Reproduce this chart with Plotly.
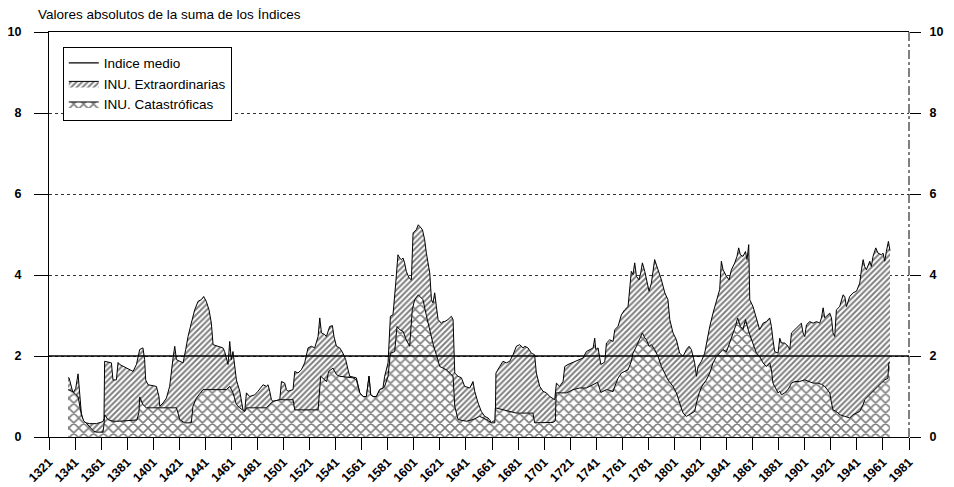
import plotly.graph_objects as go

# ---- data ----
years_ext = [1335.6, 1336.4, 1339.4, 1341.5, 1343.3, 1345.8, 1347.6, 1352.2, 1357.4, 1362.4, 1363.2, 1363.7,
             1368.9, 1370.1, 1372.7, 1374.0, 1375.3, 1380.4, 1382.9, 1385.5, 1388.1, 1390.6, 1393.1, 1394.4,
             1395.2, 1397.0, 1403.4, 1405.4, 1406.0, 1408.5, 1411.1, 1413.6, 1416.2, 1417.5, 1418.8, 1421.3,
             1423.9, 1425.9, 1427.7, 1430.2, 1432.8, 1435.4, 1437.9, 1439.7, 1441.7, 1443.8, 1445.6, 1446.9,
             1450.7, 1454.5, 1455.8, 1457.1, 1458.4, 1459.7, 1460.9, 1462.2, 1464.8, 1467.4,
             1469.9, 1471.2, 1472.5, 1475.0, 1478.9, 1481.4, 1485.3, 1487.8, 1489.1, 1490.4, 1491.7, 1492.9,
             1498.1, 1499.4, 1501.9, 1503.2, 1504.4, 1508.3, 1509.6, 1512.1, 1514.7, 1517.2, 1519.8, 1522.4,
             1524.9, 1527.5, 1528.8, 1530.1, 1532.6, 1533.9, 1536.4, 1538.5, 1539.7, 1541.6, 1544.1, 1546.6,
             1548.7, 1550.5, 1551.8, 1556.9, 1559.5, 1562.0, 1564.6, 1566.6, 1567.9, 1569.7, 1572.3, 1574.8,
             1577.3, 1578.6, 1581.2, 1583.0, 1585.0, 1587.1, 1588.8, 1590.1, 1591.4, 1592.7, 1593.9, 1595.2,
             1597.3, 1599.1, 1600.4, 1602.9, 1604.4, 1605.5,
             1607.6, 1609.3, 1610.6, 1613.2, 1614.5, 1615.7, 1617.0, 1618.3, 1619.6, 1622.1, 1623.4, 1624.7,
             1627.2, 1629.8, 1631.1, 1632.4, 1634.9, 1637.5, 1640.0, 1643.9, 1646.4, 1647.7, 1650.3, 1652.8,
             1655.4, 1657.9, 1659.2, 1660.5, 1661.8, 1663.5, 1664.0, 1666.9, 1669.4, 1672.0, 1674.6, 1677.1,
             1679.7, 1682.2, 1684.8, 1686.1, 1688.6, 1691.2, 1693.7, 1695.0, 1697.6, 1700.1, 1702.7, 1705.3,
             1709.1, 1710.4, 1712.9, 1715.5, 1716.8, 1719.3, 1721.9, 1724.4, 1727.0, 1730.8, 1733.4, 1735.9,
             1738.6, 1739.8, 1740.6, 1742.4, 1744.5, 1747.5,
             1748.8, 1751.3, 1753.9, 1755.2, 1757.7, 1760.3, 1762.8, 1765.4, 1766.6, 1767.9, 1769.2, 1770.5,
             1771.8, 1773.8, 1775.1, 1776.4, 1778.2, 1779.5, 1781.5, 1783.3, 1785.8, 1788.4, 1791.0, 1793.6,
             1796.0, 1797.4, 1799.9, 1802.5, 1805.0, 1807.6, 1810.2, 1812.2, 1814.0, 1816.5, 1817.9, 1819.1,
             1821.7, 1824.2, 1825.5, 1828.1, 1830.6, 1833.2, 1835.7, 1837.0, 1838.3, 1840.9, 1842.9, 1844.7,
             1847.3, 1849.0, 1850.3, 1851.6, 1853.6, 1855.5, 1856.7, 1858.0, 1858.8, 1861.3, 1863.9, 1866.4,
             1869.0, 1871.6, 1874.1, 1875.4, 1876.6, 1877.9, 1880.5, 1881.8, 1883.1, 1885.6, 1888.2, 1889.5,
             1890.8, 1893.3, 1895.8, 1898.4, 1899.7, 1901.0, 1902.3, 1904.8, 1907.4, 1910.0, 1912.5, 1913.8,
             1915.1, 1916.3, 1917.6, 1920.2, 1921.5, 1922.7, 1924.0, 1925.3, 1927.8, 1930.4, 1931.7, 1933.0,
             1935.5, 1938.1, 1940.7, 1941.9, 1943.2, 1944.5, 1945.8, 1947.0, 1948.3, 1950.9, 1952.1, 1953.4,
             1955.5, 1957.2, 1959.8, 1961.1, 1962.4, 1963.6, 1965.2, 1966.4]
vals_ext = [1.46, 1.46, 1.09, 1.20, 1.56, 0.59, 0.36, 0.33, 0.33, 0.38, 0.45, 1.87,
            1.83, 1.41, 1.41, 1.84, 1.79, 1.70, 1.66, 1.62, 1.79, 2.16, 2.20, 1.91,
            1.41, 1.29, 1.25, 1.00, 0.76, 0.84, 0.96, 1.25, 1.95, 2.24, 1.91, 1.87,
            1.83, 2.16, 2.48, 2.81, 3.14, 3.35, 3.39, 3.47, 3.35, 3.14, 2.81, 2.28,
            2.24, 2.20, 2.11, 1.91, 1.79, 2.36, 1.91, 2.11, 1.41, 1.13,
            0.67, 0.63, 1.09, 1.00, 1.04, 1.13, 1.29, 1.25, 1.29, 1.13, 0.92, 0.88,
            0.92, 1.37, 1.33, 1.17, 1.13, 1.17, 1.62, 1.58, 1.66, 1.83, 2.20, 2.24,
            2.20, 2.48, 2.94, 2.57, 2.53, 2.48, 2.73, 2.75, 2.48, 2.24, 2.20, 2.07,
            1.91, 1.66, 1.50, 1.46, 1.09, 1.00, 1.00, 1.50, 1.04, 1.00, 1.00, 1.17,
            1.21, 1.50, 1.83, 2.98, 3.02, 3.80, 4.50, 4.42, 4.38, 4.42, 4.30, 4.09,
            3.93, 3.88, 5.04, 5.12, 5.24, 5.20,
            5.12, 4.87, 4.54, 4.05, 3.39, 3.31, 3.56, 3.22, 2.90, 2.81, 2.85, 2.85,
            2.90, 2.98, 2.90, 1.58, 1.50, 1.46, 1.25, 1.21, 1.37, 1.13, 0.84, 0.63,
            0.51, 0.47, 0.43, 0.35, 0.39, 0.40, 1.58, 1.74, 1.87, 1.83, 1.87, 2.03,
            2.24, 2.28, 2.20, 2.24, 2.20, 2.07, 2.03, 1.58, 1.25, 1.13, 1.09, 1.00,
            0.92, 1.33, 1.25, 1.37, 1.74, 1.79, 1.83, 1.87, 1.91, 1.95, 2.11, 2.16,
            2.20, 2.44, 2.16, 2.20, 1.79, 1.85,
            2.32, 2.40, 2.36, 2.65, 2.73, 3.02, 3.14, 3.22, 3.64, 4.09, 4.01, 4.30,
            3.97, 3.88, 4.05, 4.30, 4.09, 3.88, 3.60, 3.80, 4.38, 4.13, 3.88, 3.56,
            3.39, 2.90, 2.57, 2.40, 2.07, 1.99, 2.16, 2.24, 2.16, 1.83, 1.50, 1.74,
            1.87, 2.07, 2.32, 2.73, 3.06, 3.39, 3.64, 4.34, 4.13, 3.97, 3.88, 4.13,
            4.30, 4.46, 4.67, 4.50, 4.46, 4.58, 4.38, 4.75, 3.39, 3.22, 2.90, 2.65,
            2.81, 2.85, 2.94, 2.73, 2.40, 2.11, 2.07, 2.44, 2.32, 2.32, 2.24, 2.16,
            2.57, 2.65, 2.73, 2.81, 2.57, 2.48, 2.77, 2.85, 2.81, 2.85, 2.81, 2.94,
            3.19, 2.94, 2.98, 3.06, 2.94, 2.57, 2.48, 3.14, 3.22, 3.51, 3.47, 3.22,
            3.47, 3.56, 3.60, 3.68, 3.80, 4.13, 4.38, 4.21, 4.13, 4.34, 4.21, 4.46,
            4.67, 4.54, 4.50, 4.54, 4.34, 4.58, 4.83, 4.60]

years_cat = [1335.6, 1339.4, 1341.5, 1343.3, 1345.8, 1347.6, 1350.0, 1352.2, 1355.0, 1357.4, 1362.4, 1363.2,
             1363.7, 1366.3, 1370.0, 1375.0, 1380.0, 1385.0, 1388.5, 1390.0, 1390.6, 1393.1, 1395.7, 1400.0,
             1406.0, 1412.0, 1418.8, 1420.0, 1421.3, 1425.1, 1430.2, 1431.5, 1434.1, 1439.2, 1450.0, 1457.1,
             1459.7, 1462.2, 1464.8, 1467.4, 1471.2, 1472.5, 1487.8, 1491.7, 1492.9, 1498.1, 1508.3, 1509.6,
             1527.5, 1529.5, 1532.3, 1534.0, 1535.6, 1539.0, 1541.6, 1544.1, 1554.3, 1556.9, 1559.5, 1562.0,
             1564.6, 1566.6, 1567.9, 1569.7, 1572.3, 1574.8, 1577.3, 1578.6, 1581.2, 1583.0, 1586.3, 1588.1,
             1590.1, 1592.7, 1595.2, 1597.8, 1599.8, 1601.6, 1604.4, 1608.0, 1610.6, 1613.2, 1615.7, 1618.3,
             1620.9, 1626.0, 1631.1, 1632.4, 1634.9, 1641.3, 1646.4, 1651.5, 1656.7, 1660.5, 1663.1, 1663.6,
             1669.4, 1679.7, 1692.4, 1693.7, 1707.8, 1709.6, 1710.2, 1718.1, 1723.2, 1728.3, 1733.4, 1738.6,
             1742.0, 1744.5, 1748.8, 1751.3, 1753.9, 1755.2, 1757.7, 1760.3, 1762.8, 1765.4, 1767.9, 1769.2,
             1771.8, 1773.8, 1776.4, 1778.2, 1779.5, 1781.5, 1783.3, 1785.8, 1788.4, 1791.0, 1793.6, 1796.0,
             1799.9, 1802.5, 1805.0, 1807.6, 1810.2, 1812.2, 1814.0, 1816.5, 1817.9, 1820.0, 1822.0, 1825.5,
             1828.1, 1830.6, 1833.2, 1835.7, 1838.3, 1840.9, 1842.9, 1845.5, 1848.0, 1849.5, 1851.6, 1853.6,
             1855.5, 1858.0, 1861.3, 1863.9, 1866.4, 1869.0, 1871.6, 1874.1, 1875.4, 1876.6, 1880.5, 1881.8,
             1883.1, 1885.6, 1888.2, 1890.8, 1893.3, 1897.0, 1901.0, 1904.0, 1907.4, 1911.0, 1913.8, 1916.3,
             1920.2, 1921.5, 1922.7, 1925.3, 1927.8, 1931.7, 1935.5, 1938.1, 1940.7, 1943.2, 1945.8, 1947.0,
             1949.5, 1952.0, 1954.5, 1957.2, 1959.8, 1962.4, 1964.8, 1965.5, 1966.4]
vals_cat = [1.17, 1.12, 1.05, 1.00, 0.55, 0.40, 0.33, 0.26, 0.15, 0.12, 0.12, 0.30,
            0.55, 0.43, 0.39, 0.39, 0.40, 0.40, 0.42, 0.60, 0.99, 0.80, 0.72, 0.72,
            0.72, 0.72, 0.72, 0.59, 0.43, 0.35, 0.35, 0.76, 0.96, 1.17, 1.17, 1.17,
            1.25, 1.09, 0.80, 0.72, 0.63, 0.72, 0.72, 0.84, 0.88, 0.92, 0.92, 0.67,
            0.67, 1.50, 1.41, 1.37, 1.62, 1.70, 1.54, 1.50, 1.46, 1.41, 1.09, 1.00,
            1.00, 1.50, 1.04, 1.00, 1.00, 1.17, 1.20, 1.25, 1.50, 2.07, 2.11, 2.73,
            2.65, 2.61, 2.40, 2.24, 3.14, 3.39, 3.51, 3.39, 3.00, 2.65, 2.30, 2.03,
            1.74, 1.66, 1.50, 0.76, 0.43, 0.39, 0.43, 0.51, 0.43, 0.35, 0.35, 0.72,
            0.67, 0.59, 0.59, 0.35, 0.36, 0.40, 1.09, 1.09, 1.17, 1.21, 1.21, 1.29,
            1.35, 1.10, 1.17, 1.15, 1.12, 1.25, 1.45, 1.58, 1.62, 1.66, 1.87, 2.07,
            2.24, 2.40, 2.57, 2.45, 2.40, 2.24, 2.28, 2.16, 1.99, 1.74, 1.58, 1.41,
            1.25, 1.09, 0.84, 0.59, 0.51, 0.55, 0.59, 0.63, 0.84, 1.09, 1.25, 1.41,
            1.58, 1.83, 1.99, 2.07, 2.16, 2.10, 2.28, 2.55, 2.75, 2.94, 2.73, 2.65,
            2.90, 2.60, 2.32, 2.07, 1.99, 1.83, 1.74, 1.83, 1.66, 1.33, 1.09, 1.13,
            1.04, 1.09, 1.17, 1.33, 1.37, 1.37, 1.41, 1.37, 1.33, 1.33, 1.30, 1.25,
            1.09, 0.84, 0.67, 0.63, 0.55, 0.51, 0.47, 0.55, 0.59, 0.63, 0.80, 0.92,
            1.00, 1.09, 1.17, 1.25, 1.33, 1.41, 1.45, 1.83, 1.83]

indice_medio = 2.0
x_span = [1321, 1981]
x_ticks = list(range(1321, 1982, 20))
y_ticks = [0, 2, 4, 6, 8, 10]

FONT = "Liberation Sans, Arial, sans-serif"

# page body keeps its default 8px margin, so the figure is sized to fill the rest of the window
W, H = 946, 479

fig = go.Figure()
fig.add_trace(go.Scatter(
    x=years_ext, y=vals_ext, name="INU. Extraordinarias", mode="lines",
    line=dict(color="black", width=1), fill="tozeroy", fillcolor="white",
    fillpattern=dict(shape="/", fgcolor="black", bgcolor="white", size=4, solidity=0.5),
    legendrank=2))
fig.add_trace(go.Scatter(
    x=years_cat, y=vals_cat, name="INU. Catastróficas", mode="lines",
    line=dict(color="black", width=1), fill="tozeroy", fillcolor="white",
    fillpattern=dict(shape="x", fgcolor="black", bgcolor="white", size=7, solidity=0.4),
    legendrank=3))
fig.add_trace(go.Scatter(
    x=x_span, y=[indice_medio, indice_medio], name="Indice medio", mode="lines",
    line=dict(color="black", width=1.3), legendrank=1, yaxis="y2"))

fig.update_layout(
    width=W, height=H,
    margin=dict(l=41, r=45, t=24, b=50),
    paper_bgcolor="white", plot_bgcolor="white",
    font=dict(family=FONT, color="black"),
    showlegend=True,
    legend=dict(x=0.016, y=0.964, xanchor="left", yanchor="top",
                bordercolor="black", borderwidth=1, bgcolor="white",
                font=dict(size=13.5), itemwidth=30, tracegroupgap=0),
    title=dict(text="Valores absolutos de la suma de los Índices",
               x=30 / W, xanchor="left", xref="container",
               y=1 - 6.5 / H, yanchor="middle", yref="container",
               pad=dict(l=0, r=0, t=0, b=0),
               font=dict(size=13.5, family=FONT)),
    xaxis=dict(range=x_span, tickvals=x_ticks, ticktext=[str(v) for v in x_ticks],
               tickangle=-45, ticks="outside", ticklen=12, tickcolor="black",
               showline=True, linecolor="black", linewidth=1, mirror=True,
               showgrid=False, zeroline=False, automargin=False,
               tickfont=dict(size=12.5, weight="bold")),
    yaxis=dict(range=[0, 10], tickvals=y_ticks, ticks="outside", ticklen=14,
               tickcolor="black", showline=True, linecolor="black", linewidth=1,
               showgrid=True, gridcolor="#333", griddash="dot", gridwidth=1,
               zeroline=False, ticklabelstandoff=10, automargin=False,
               tickfont=dict(size=12.5, weight="bold")),
    yaxis2=dict(range=[0, 10], tickvals=y_ticks, overlaying="y", side="right",
                ticks="outside", ticklen=11, tickcolor="black", showline=False,
                showgrid=False, zeroline=False, ticklabelstandoff=6, automargin=False,
                tickfont=dict(size=12.5, weight="bold")),
    shapes=[dict(type="line", xref="paper", yref="paper", x0=1, x1=1, y0=0, y1=1,
                 line=dict(color="black", width=1, dash="dashdot"))],
)

fig.write_html("out.html", config={"displayModeBar": False})
